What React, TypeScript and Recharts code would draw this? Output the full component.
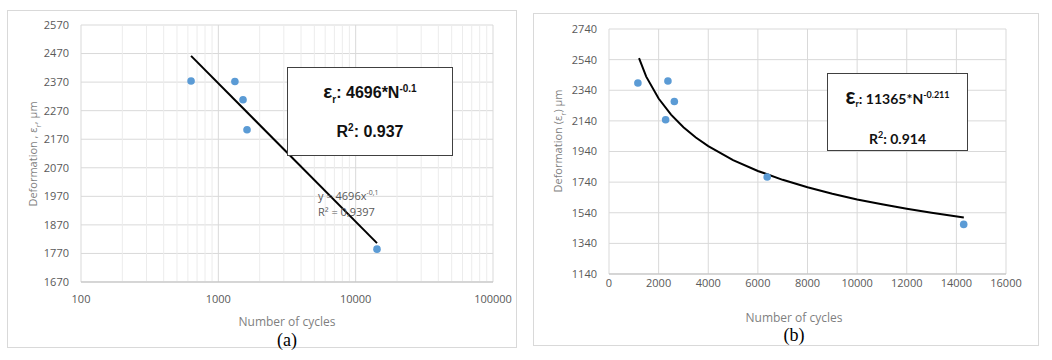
import React from "react";
import {
  ScatterChart,
  Scatter,
  XAxis,
  YAxis,
  CartesianGrid,
  ReferenceLine,
} from "recharts";

// ---------- Panel (a): log x axis ----------
const cyclesA = [633, 1320, 1513, 1618, 14300];
const deformA = [2374, 2372, 2308, 2203, 1785];
const trendCyclesA = [633, 14300];
const trendDeformA = [2462, 1806];
const xTicksA = [100, 1000, 10000, 100000];
const xMinorA = [200, 300, 400, 500, 600, 700, 800, 900, 2000, 3000, 4000, 5000, 6000, 7000, 8000, 9000, 20000, 30000, 40000, 50000, 60000, 70000, 80000, 90000];
const yTicksA = [1670, 1770, 1870, 1970, 2070, 2170, 2270, 2370, 2470, 2570];

// ---------- Panel (b): linear x axis ----------
const cyclesB = [1165, 2282, 2375, 2633, 6375, 14295];
const deformB = [2387, 2147, 2400, 2267, 1773, 1464];
const trendCyclesB = [1210, 1500, 2000, 2500, 3000, 3500, 4000, 5000, 6000, 7000, 8000, 9000, 10000, 11000, 12000, 13000, 14300];
const trendDeformB = [2550, 2429, 2286, 2181, 2099, 2031, 1975, 1884, 1813, 1755, 1706, 1664, 1627, 1595, 1566, 1540, 1509];
const xTicksB = [0, 2000, 4000, 6000, 8000, 10000, 12000, 14000, 16000];
const yTicksB = [1140, 1340, 1540, 1740, 1940, 2140, 2340, 2540, 2740];

const zip = (xs: number[], ys: number[]) => xs.map((x, i) => ({ x, y: ys[i] }));

const pointsA = zip(cyclesA, deformA);
const trendA = zip(trendCyclesA, trendDeformA);
const pointsB = zip(cyclesB, deformB);
const trendB = zip(trendCyclesB, trendDeformB);

const FONT = "'Open Sans', 'Liberation Sans', sans-serif";
const tickStyle = { fill: "#595959", fontSize: 11, fontFamily: FONT };
const GRID = "#d9d9d9";
const BLUE = "#5b9bd5";

const Dot = (p: any) => <circle cx={p.cx} cy={p.cy} r={3.8} fill={BLUE} />;
const NoDot = () => <g />;

const abs = (left: number, top: number, extra: React.CSSProperties = {}): React.CSSProperties => ({
  position: "absolute",
  left,
  top,
  ...extra,
});

const titleStyle: React.CSSProperties = {
  fontFamily: FONT,
  fontSize: 12,
  color: "#7f7f7f",
  whiteSpace: "nowrap",
};

const centered: React.CSSProperties = { width: 0, display: "flex", justifyContent: "center" };

export default function App() {
  return (
    <div style={{ position: "absolute", left: 0, top: 0, width: 1052, height: 360, background: "#fff", overflow: "hidden" }}>
      {/* panel frames */}
      <div style={abs(7, 10, { width: 510, height: 338, border: `1px solid ${GRID}`, boxSizing: "border-box" })} />
      <div style={abs(533, 13, { width: 506, height: 333, border: `1px solid ${GRID}`, boxSizing: "border-box" })} />

      {/* Chart (a) */}
      <div style={abs(0, 0)}>
        <ScatterChart width={520} height={360} margin={{ top: 25, right: 27, bottom: 48, left: 21 }}>
          <CartesianGrid stroke={GRID} strokeWidth={1} />
          {xMinorA.map((v) => (
            <ReferenceLine key={v} x={v} stroke="#ececec" strokeWidth={1} />
          ))}
          <XAxis
            type="number"
            dataKey="x"
            scale="log"
            domain={[100, 100000]}
            ticks={xTicksA}
            allowDataOverflow
            tick={tickStyle}
            tickLine={false}
            tickSize={0}
            tickMargin={13}
            height={30}
            axisLine={{ stroke: "#bfbfbf" }}
          />
          <YAxis
            type="number"
            dataKey="y"
            domain={[1670, 2570]}
            ticks={yTicksA}
            allowDataOverflow
            tick={tickStyle}
            tickLine={false}
            tickSize={0}
            tickMargin={12}
            width={60}
            axisLine={false}
          />
          <Scatter data={trendA} line={{ stroke: "#000", strokeWidth: 2 }} shape={NoDot} isAnimationActive={false} />
          <Scatter data={pointsA} shape={Dot} isAnimationActive={false} />
        </ScatterChart>
      </div>

      {/* Chart (b) */}
      <div style={abs(525, 0)}>
        <ScatterChart width={527} height={360} margin={{ top: 29, right: 46, bottom: 56, left: 24 }}>
          <CartesianGrid stroke={GRID} strokeWidth={1} />
          <XAxis
            type="number"
            dataKey="x"
            domain={[0, 16000]}
            ticks={xTicksB}
            allowDataOverflow
            tick={tickStyle}
            tickLine={false}
            tickSize={0}
            tickMargin={5}
            height={30}
            axisLine={{ stroke: "#bfbfbf" }}
          />
          <YAxis
            type="number"
            dataKey="y"
            domain={[1140, 2740]}
            ticks={yTicksB}
            allowDataOverflow
            tick={tickStyle}
            tickLine={false}
            tickSize={0}
            tickMargin={12}
            width={60}
            axisLine={false}
          />
          <Scatter data={trendB} line={{ stroke: "#000", strokeWidth: 2 }} shape={NoDot} isAnimationActive={false} />
          <Scatter data={pointsB} shape={Dot} isAnimationActive={false} />
        </ScatterChart>
      </div>

      {/* Axis titles (a) */}
      <div style={abs(287, 315, { ...titleStyle, ...centered, lineHeight: "14px" })}>
        <span>Number of cycles</span>
      </div>
      <div
        style={abs(34, 154, {
          ...titleStyle,
          fontSize: 11,
          transform: "translate(-50%, -50%) rotate(-90deg)",
        })}
      >
        Deformation , ε<sub style={{ fontSize: 8 }}>r</sub>, μm
      </div>
      <div style={abs(287, 332, { ...centered, lineHeight: "17px", fontFamily: "'Liberation Serif', serif", fontSize: 18, color: "#000" })}>
        <span>(a)</span>
      </div>

      {/* Axis titles (b) */}
      <div style={abs(794, 311, { ...titleStyle, ...centered, lineHeight: "14px" })}>
        <span>Number of cycles</span>
      </div>
      <div
        style={abs(559, 141, {
          ...titleStyle,
          fontSize: 11,
          transform: "translate(-50%, -50%) rotate(-90deg)",
        })}
      >
        Deformation (ε<sub style={{ fontSize: 8 }}>r</sub>) μm
      </div>
      <div style={abs(794, 327, { ...centered, lineHeight: "17px", fontFamily: "'Liberation Serif', serif", fontSize: 18, color: "#000" })}>
        <span>(b)</span>
      </div>

      {/* Trendline label (a) */}
      <div style={abs(318, 185, { fontFamily: FONT, fontSize: 11, color: "#595959", lineHeight: "16px", whiteSpace: "nowrap" })}>
        <div>
          y = 4696x<sup style={{ fontSize: 7 }}>-0,1</sup>
        </div>
        <div>R² = 0,9397</div>
      </div>

      {/* Equation box (a) */}
      <div
        style={abs(287, 67, {
          width: 166,
          height: 89,
          boxSizing: "border-box",
          border: "1.5px solid #404040",
          background: "#fff",
          fontFamily: "'Liberation Sans', Arial, sans-serif",
          fontWeight: "bold",
          fontSize: 16,
          color: "#111",
          textAlign: "center",
        })}
      >
        <div style={{ position: "absolute", left: 0, right: 0, top: 11, lineHeight: "20px" }}>
          <span style={{ fontSize: 19 }}>ε</span>
          <sub style={{ fontSize: 10 }}>r</sub>: 4696*N<sup style={{ fontSize: 10 }}>-0.1</sup>
        </div>
        <div style={{ position: "absolute", left: 0, right: 0, top: 50, lineHeight: "20px" }}>
          R<sup style={{ fontSize: 10 }}>2</sup>: 0.937
        </div>
      </div>

      {/* Equation box (b) */}
      <div
        style={abs(827, 73, {
          width: 141,
          height: 78,
          boxSizing: "border-box",
          border: "1.5px solid #404040",
          background: "#fff",
          fontFamily: "Lato, 'Open Sans', sans-serif",
          fontWeight: "bold",
          fontSize: 14,
          color: "#111",
          textAlign: "center",
        })}
      >
        <div style={{ position: "absolute", left: 0, right: 0, top: 10, lineHeight: "22px" }}>
          <span style={{ fontSize: 22 }}>ε</span>
          <sub style={{ fontSize: 9 }}>r</sub>: 11365*N<sup style={{ fontSize: 9 }}>-0.211</sup>
        </div>
        <div style={{ position: "absolute", left: 0, right: 0, top: 52, lineHeight: "18px" }}>
          R<sup style={{ fontSize: 9 }}>2</sup>: 0.914
        </div>
      </div>
    </div>
  );
}
